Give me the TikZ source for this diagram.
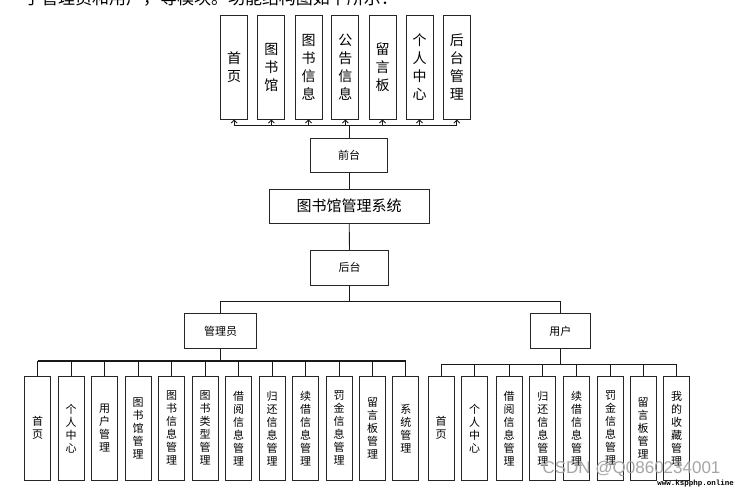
\documentclass[tikz,border=0pt]{standalone}
\usepackage{fontspec}
\setmainfont{Noto Sans CJK SC}
\newfontfamily\wmsans{Liberation Sans}
\newfontfamily\wmmono{Liberation Mono}
\usetikzlibrary{arrows.meta}
\tikzset{
  box/.style={draw=black!85, line width=0.9pt, inner sep=0pt, align=center, fill=white},
  topbox/.style={box, minimum width=27pt, minimum height=103.3pt, font=\fontsize{14}{18}\selectfont},
  midbox/.style={box, minimum height=34.6pt, font=\fontsize{11}{13}\selectfont},
  sysbox/.style={box, minimum width=160.3pt, minimum height=34.3pt, font=\fontsize{15}{18}\selectfont},
  botbox/.style={box, minimum width=26pt, minimum height=103.3pt, font=\fontsize{11}{13}\selectfont},
  link/.style={draw=black!90, line width=0.9pt},
  uparrow/.style={link, -{Straight Barb[length=3pt,width=6pt]}},
}
\begin{document}
\begin{tikzpicture}[x=1pt,y=-1pt]
\useasboundingbox (0,0) rectangle (734,488);
\fill[white] (0,0) rectangle (734,488);
\begin{scope}
\clip (0,0) rectangle (734,488);
\node[anchor=center, font=\fontsize{17}{17}\selectfont, inner sep=0pt] (intro) at (211,-2) {于管理员和用户，等模块。功能结构图如下所示：};
\end{scope}

% top row
\node[topbox] (t1) at (234.2,67.35) {首\\页};
\node[topbox] (t2) at (271.3,67.35) {图\\书\\馆};
\node[topbox] (t3) at (308.5,67.35) {图\\书\\信\\息};
\node[topbox] (t4) at (345.4,67.35) {公\\告\\信\\息};
\node[topbox] (t5) at (382.5,67.35) {留\\言\\板};
\node[topbox] (t6) at (419.5,67.35) {个\\人\\中\\心};
\node[topbox] (t7) at (456.8,67.35) {后\\台\\管\\理};

\node[midbox, minimum width=77pt] (qt) at (349.2,155.3) {前台};
\node[sysbox] (sys) at (349.2,206.2) {图书馆管理系统};
\node[midbox, minimum width=77.6pt] (ht) at (349.5,267.7) {后台};
\node[midbox, minimum width=72pt] (adm) at (220.7,331) {管理员};
\node[midbox, minimum width=60pt] (usr) at (560.3,331) {用户};

% admin boxes
\node[botbox] (a1) at (37.5,428.3) {首\\页};
\node[botbox] (a2) at (71.0,428.3) {个\\人\\中\\心};
\node[botbox] (a3) at (104.5,428.3) {用\\户\\管\\理};
\node[botbox] (a4) at (138.0,428.3) {图\\书\\馆\\管\\理};
\node[botbox] (a5) at (171.5,428.3) {图\\书\\信\\息\\管\\理};
\node[botbox] (a6) at (205.0,428.3) {图\\书\\类\\型\\管\\理};
\node[botbox] (a7) at (238.5,428.3) {借\\阅\\信\\息\\管\\理};
\node[botbox] (a8) at (272.0,428.3) {归\\还\\信\\息\\管\\理};
\node[botbox] (a9) at (305.5,428.3) {续\\借\\信\\息\\管\\理};
\node[botbox] (a10) at (339.0,428.3) {罚\\金\\信\\息\\管\\理};
\node[botbox] (a11) at (372.5,428.3) {留\\言\\板\\管\\理};
\node[botbox] (a12) at (405.8,428.3) {系\\统\\管\\理};

% user boxes
\node[botbox] (u1) at (441.2,428.3) {首\\页};
\node[botbox] (u2) at (474.7,428.3) {个\\人\\中\\心};
\node[botbox] (u3) at (509.0,428.3) {借\\阅\\信\\息\\管\\理};
\node[botbox] (u4) at (542.8,428.3) {归\\还\\信\\息\\管\\理};
\node[botbox] (u5) at (576.5,428.3) {续\\借\\信\\息\\管\\理};
\node[botbox] (u6) at (610.5,428.3) {罚\\金\\信\\息\\管\\理};
\node[botbox] (u7) at (643.2,428.3) {留\\言\\板\\管\\理};
\node[botbox] (u8) at (676.5,428.3) {我\\的\\收\\藏\\管\\理};

% connectors: top
\coordinate (tb) at (349.2,125.6);
\draw[link] (qt.north) -- (tb);
\draw[link] (t1.south |- tb) -- (t7.south |- tb);
\foreach \i in {1,...,7} { \draw[uparrow] (t\i.south |- tb) -- (t\i.south); }

\draw[link] (qt.south) -- (sys.north);
\draw[link] (sys.south) -- (ht.north);

% back-end split
\coordinate (hb) at (349.5,301);
\draw[link] (ht.south) -- (hb);
\draw[link] (adm.north |- hb) -- (usr.north |- hb);
\draw[link] (adm.north |- hb) -- (adm.north);
\draw[link] (usr.north |- hb) -- (usr.north);

% admin bus
\coordinate (ab) at (220.7,361);
\draw[link] (adm.south) -- (ab);
\draw[link, line width=1.6pt] (a1.north |- ab) -- (a12.north |- ab);
\foreach \i in {1,...,12} { \draw[link] (a\i.north |- ab) -- (a\i.north); }

% user bus
\coordinate (ub) at (560.3,364);
\draw[link] (usr.south) -- (ub);
\draw[link] (u1.north |- ub) -- (u8.north |- ub);
\foreach \i in {1,...,8} { \draw[link] (u\i.north |- ub) -- (u\i.north); }

% watermarks
\node[font=\wmsans\fontsize{17}{17}\selectfont, text=black!35, inner sep=0pt] (wm1) at (631.5,469) {CSDN @Q0860234001};
\node[font=\wmmono\bfseries\fontsize{7.5}{8}\selectfont, text=black, inner sep=0pt, anchor=east] (wm2) at (734,483.5) {www.kspphp.online};
\end{tikzpicture}
\end{document}
